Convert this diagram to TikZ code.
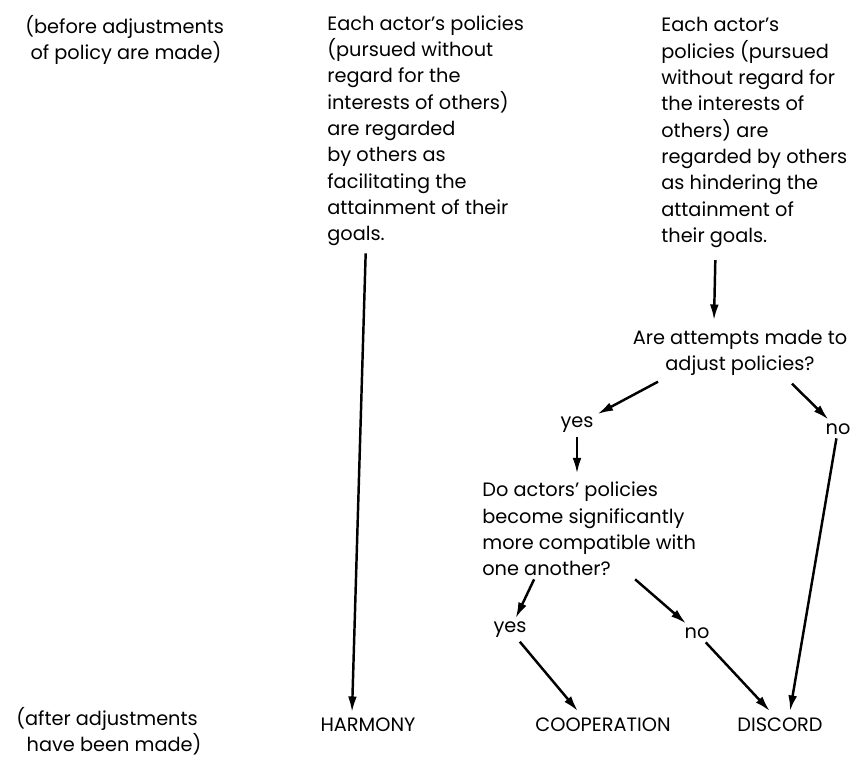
\documentclass[tikz,border=0pt]{standalone}
\usepackage{fontspec}
\setmainfont{Poppins}
\usepackage{tikz}
\usetikzlibrary{arrows.meta,shapes}

\begin{document}
\begin{tikzpicture}
	[
		x = 0.02cm, y = -0.02cm,
		every node/.style = {inner sep=2pt, font=\fontsize{11}{15}\selectfont},
		block/.style = {align=left, anchor=north west, inner sep=0pt},
		arr/.style = {-{Latex[length=9pt,width=5pt]}, line width=1.4pt},
	]
	\useasboundingbox (0,0) rectangle (862,757);

	\node[block] (before) at (25,15) {(before adjustments\\\ of policy are made)};
	\node[block] (after) at (16,707) {(after adjustments\\\ \ have been made)};

	\node[block] (facil) at (327,15) {Each actor's policies\\(pursued without\\regard for the\\interests of others)\\are regarded\\by others as\\facilitating the\\attainment of their\\goals.};
	\node[block] (hinder) at (661,17) {Each actor's\\policies (pursued\\without regard for\\the interests of\\others) are\\regarded by others\\as hindering the\\attainment of\\their goals.};

	\node[align=center] (Q1) at (740,353) {Are attempts made to\\adjust policies?};
	\node (yes1) at (577,425) {yes};
	\node (no1) at (838,429) {no};
	\node[block, anchor=west] (Q2) at (482,529) {Do actors' policies\\become significantly\\more compatible with\\one another?};
	\node (yes2) at (510,630) {yes};
	\node (no2) at (697,633) {no};

	\node (harmony) at (368,725) {HARMONY};
	\node (coop) at (603,725) {COOPERATION};
	\node (discord) at (780,725) {DISCORD};

	\path[arr]
	([shift={(-60,7)}]facil.south) edge ([shift={(-16,-2)}]harmony.north)
	([shift={(-39,12)}]hinder.south) edge ([shift={(-26,-6)}]Q1.north)
	([shift={(-82,2)}]Q1.south) edge (yes1)
	([shift={(52,4)}]Q1.south) edge (no1)
	(yes1) edge ([shift={(0,-8)}]yes1 |- Q2.north)
	(no1) edge ([shift={(10,-3)}]discord.north)
	([shift={(-55,3)}]Q2.south) edge (yes2)
	([shift={(46,3)}]Q2.south) edge (no2)
	(yes2) edge ([shift={(-25,-3)}]coop.north)
	(no2) edge ([shift={(-10,-3)}]discord.north);

\end{tikzpicture}
\end{document}
